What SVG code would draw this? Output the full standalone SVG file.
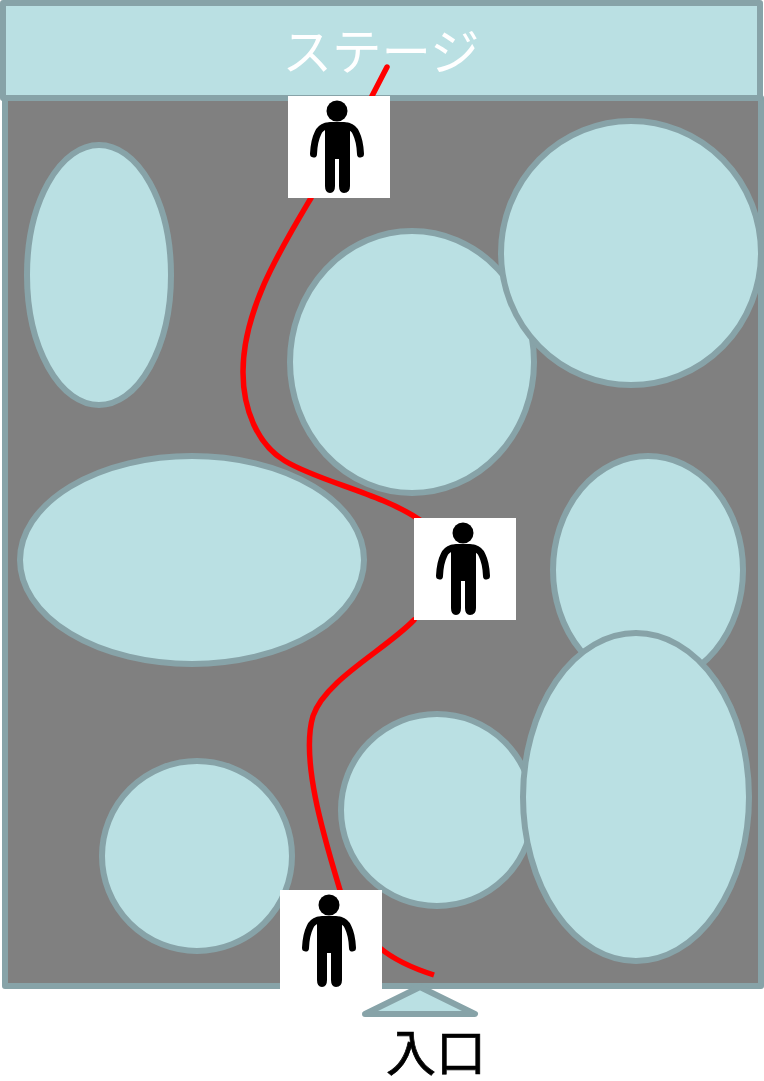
<svg xmlns="http://www.w3.org/2000/svg" width="764" height="1081" viewBox="0 0 764 1081">
<style>
.b{fill:#bae0e3;stroke:#87a3a8;stroke-width:6;stroke-linejoin:round}
.t{font-family:"Noto Sans CJK JP","Noto Sans",sans-serif}
.w{fill:#fff}
.r{fill:none;stroke:#f00;stroke-width:5.5;stroke-linecap:round}
</style>
<defs>
<g id="person"><rect x="0" y="0" width="102" height="102" fill="#fff"/>
<circle cx="49" cy="15" r="10.5"/>
<path d="M38 30Q32 32 30 37Q26 45 25.500 58" fill="none" stroke="#000" stroke-width="7" stroke-linecap="round"/>
<path d="M60 30Q66 32 68 37Q72 45 72.500 58" fill="none" stroke="#000" stroke-width="7" stroke-linecap="round"/>
<path d="M42 26H56Q60 26 62 29V90Q62 97 56 97Q51 97 51 90V63H47V90Q47 97 42 97Q37 97 37 90V29Q38 26 42 26Z"/>
</g>
</defs>
<rect id="floor" class="b" x="5" y="98" width="756" height="888" style="fill:#808080"/>
<g id="seats">
<ellipse id="s1" class="b" cx="99" cy="275" rx="72" ry="130"/>
<ellipse id="s2" class="b" cx="412" cy="362" rx="122" ry="131"/>
<ellipse id="s3" class="b" cx="631" cy="253" rx="130" ry="132"/>
<ellipse id="s4" class="b" cx="192" cy="560" rx="172" ry="104"/>
<ellipse id="s5" class="b" cx="648" cy="570" rx="95" ry="114"/>
<ellipse id="s6" class="b" cx="197" cy="856" rx="95" ry="95"/>
<ellipse id="s7" class="b" cx="437" cy="810" rx="96" ry="96"/>
<ellipse id="s8" class="b" cx="636" cy="797" rx="113" ry="164"/>
</g>
<g id="stage"><rect class="b" x="3" y="3" width="757" height="95"/>
<text class="t w" x="381" y="70" font-size="49.500" text-anchor="middle">ステージ</text></g>
<g id="connectors"><path class="r" d="M387 67L372 96M311 198C280 250 243 310 243 372C243 410 258 445 285 461C320 482 380 493 420 520M414 620C385 650 325 680 313 716C300 760 325 840 340 890"/>
<path class="r" style="stroke-linecap:butt" d="M380 948C392 958 412 968 434 975"/></g>
<use id="p1" href="#person" x="288" y="96"/>
<use id="p2" href="#person" x="414" y="518"/>
<use id="p3" href="#person" x="280" y="890"/>
<g id="entrance"><path class="b" d="M420 987L475 1014H365Z"/>
<text class="t" x="436" y="1071" font-size="50" stroke="#000" stroke-width="0.7" text-anchor="middle">入口</text></g>
</svg>
